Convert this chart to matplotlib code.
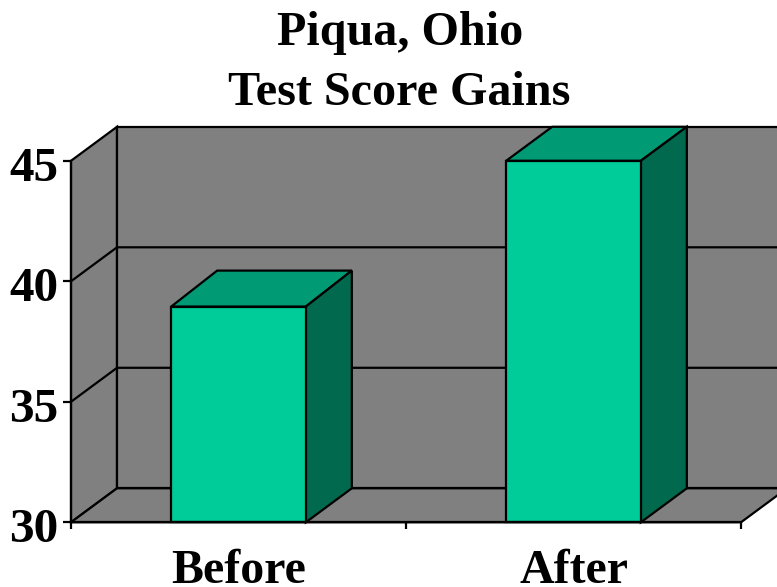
import matplotlib
matplotlib.use("Agg")
import matplotlib.pyplot as plt
from matplotlib.patches import Polygon
from matplotlib.transforms import ScaledTranslation

categories = ["Before", "After"]
values = [38.95, 45]
y_ticks = [30, 35, 40, 45]
title_lines = ["Piqua, Ohio", "Test Score Gains"]

plt.rcParams["font.family"] = ["Liberation Serif", "DejaVu Serif"]
plt.rcParams["font.weight"] = "bold"

W, H = 777, 587
fig = plt.figure(figsize=(W / 100, H / 100), dpi=100)
# front plane of the 3d box, in pixels: x 71-741, y 161-522
ax = fig.add_axes([71 / W, 1 - 522.3 / H, 670 / W, 361.5 / H])
ax.set_xlim(0, 2)
ax.set_ylim(30, 45)
ax.set_facecolor("none")

# depth of the box in data units
dx = 46 / 670 * 2
dy = 34 / 361.5 * 15
dy_bar = 36 / 361.5 * 15
lw = 1.6
gray = "#808080"


def face(pts, color, z):
    ax.add_patch(Polygon(pts, closed=True, facecolor=color, edgecolor="black",
                         linewidth=lw, joinstyle="miter", clip_on=False, zorder=z))


face([(0, 30), (dx, 30 + dy), (dx, 45 + dy), (0, 45)], gray, 1)  # left wall
face([(dx, 30 + dy), (dx, 45 + dy), (2 + dx, 45 + dy), (2 + dx, 30 + dy)], gray, 1)  # back wall
face([(0, 30), (dx, 30 + dy), (2 + dx, 30 + dy), (2, 30)], gray, 1)  # floor

for t in y_ticks[1:-1]:
    ax.plot([0, dx, 2 + dx], [t, t + dy, t + dy], color="black", lw=lw, clip_on=False, zorder=2)

width = 0.402
for i, v in enumerate(values):
    x0 = i + 0.5 - width / 2
    x1 = i + 0.5 + width / 2
    back = min(v + dy_bar, 45 + dy)
    ax.bar(i + 0.5, v - 30, width, bottom=30, color="#00CC99", edgecolor="black",
           linewidth=lw, clip_on=False, zorder=5)
    face([(x0, v), (x0 + dx, back), (x1 + dx, back), (x1, v)], "#009A74", 4)
    face([(x1, 30), (x1 + dx, 30 + dy), (x1 + dx, back), (x1, v)], "#00694E", 4)

for s in ["top", "right"]:
    ax.spines[s].set_visible(False)
for s in ["left", "bottom"]:
    ax.spines[s].set_linewidth(lw)
    ax.spines[s].set_zorder(6)

ax.set_yticks(y_ticks)
ax.set_yticklabels([str(t) for t in y_ticks], fontsize=35.5, fontweight="bold")
ax.set_xticks([0, 1, 2])
ax.set_xticklabels([])
ax.set_xticks([0.5, 1.5], labels=categories, minor=True, fontsize=34.5, fontweight="bold", va="baseline")
ax.tick_params(axis="x", which="major", length=5, width=lw)
ax.tick_params(axis="x", which="minor", length=0, pad=44)
ax.tick_params(axis="y", length=5.5, width=lw, pad=3.5)

# y labels sit a little below their ticks in the original
down = ScaledTranslation(0, -3 / 100, fig.dpi_scale_trans)
for lab in ax.get_yticklabels():
    lab.set_transform(lab.get_transform() + down)

fig.text(400 / W, 1 - 45 / H, title_lines[0], ha="center", va="baseline",
         fontsize=34.7, fontweight="bold")
fig.text(399 / W, 1 - 105 / H, title_lines[1], ha="center", va="baseline",
         fontsize=34.7, fontweight="bold")

fig.savefig("out.png", dpi=100, facecolor="white")
